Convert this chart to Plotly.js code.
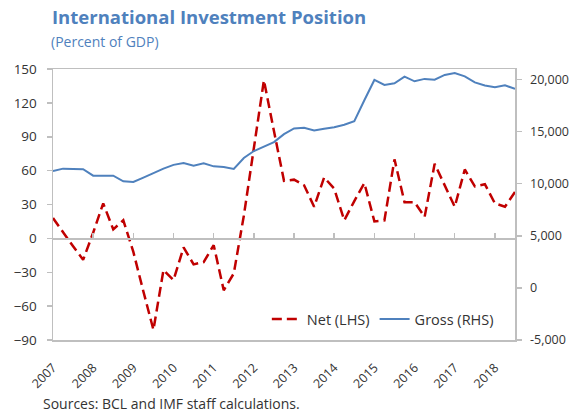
<!DOCTYPE html>
<html>
<head>
<meta charset="utf-8">
<script src="https://cdn.plot.ly/plotly-3.0.1.min.js"></script>
<style>html,body{margin:0;padding:0;background:#fff;}#chart{width:573px;height:414px;}</style>
</head>
<body>
<div id="chart"></div>
<script>
// Quarterly periods, 2007Q1 .. 2018Q3
var quarters = ["2007Q1","2007Q2","2007Q3","2007Q4","2008Q1","2008Q2","2008Q3","2008Q4",
  "2009Q1","2009Q2","2009Q3","2009Q4","2010Q1","2010Q2","2010Q3","2010Q4",
  "2011Q1","2011Q2","2011Q3","2011Q4","2012Q1","2012Q2","2012Q3","2012Q4",
  "2013Q1","2013Q2","2013Q3","2013Q4","2014Q1","2014Q2","2014Q3","2014Q4",
  "2015Q1","2015Q2","2015Q3","2015Q4","2016Q1","2016Q2","2016Q3","2016Q4",
  "2017Q1","2017Q2","2017Q3","2017Q4","2018Q1","2018Q2","2018Q3"];
var yearTickVals = ["2007Q1","2008Q1","2009Q1","2010Q1","2011Q1","2012Q1","2013Q1","2014Q1","2015Q1","2016Q1","2017Q1","2018Q1"];
var yearTickText = ["2007","2008","2009","2010","2011","2012","2013","2014","2015","2016","2017","2018"];

// Net IIP (percent of GDP, LHS)
var netLHS = [18, 5, -7, -19, 5, 31, 8, 16, -12, -47, -81, -28,
  -37, -8, -23, -21, -6, -46, -31, 20, 80, 140, 95, 51,
  52, 47, 28, 54, 44, 16, 33, 49, 15, 16, 70, 32,
  32, 19, 66, 47, 28, 61, 46, 48, 31, 28, 41];
// Gross IIP (percent of GDP, RHS)
var grossRHS = [11200, 11440, 11400, 11380, 10770, 10770, 10770, 10230, 10160, 10580, 11020, 11440,
  11800, 11980, 11730, 11950, 11660, 11600, 11410, 12460, 13130, 13580, 13990, 14750,
  15300, 15360, 15100, 15270, 15420, 15650, 16000, 18000, 19950, 19470, 19630, 20270,
  19820, 20050, 19980, 20430, 20620, 20300, 19720, 19410, 19250, 19440, 19090];

var FONT = "Open Sans, Noto Sans, sans-serif";
var BLUE = "#4F81BD";
var RED = "#C00000";
var GRAY = "#BFBFBF";
var TXT = "#333333";

var traces = [
  {x: quarters, y: netLHS, name: "Net (LHS)", type: "scatter", mode: "lines",
   xaxis: "x", yaxis: "y",
   line: {color: RED, width: 2.5, dash: "10px,5px"}},
  {x: quarters, y: grossRHS, name: "Gross (RHS)", type: "scatter", mode: "lines",
   xaxis: "x", yaxis: "y2",
   line: {color: BLUE, width: 2}},
  // empty helper trace so the zero-crossing category axis (ticks at year starts) is drawn
  {x: [], y: [], xaxis: "x2", yaxis: "y", type: "scatter", mode: "lines",
   showlegend: false, hoverinfo: "skip"}
];

var layout = {
  width: 573, height: 414,
  margin: {l: 53, r: 58, t: 68.5, b: 74, pad: 0},
  paper_bgcolor: "#fff", plot_bgcolor: "#fff",
  font: {family: FONT, size: 13, color: TXT},
  showlegend: true,
  title: {text: "<b>International Investment Position</b>",
    font: {family: FONT, size: 18.5, color: BLUE},
    xref: "container", yref: "container", x: 52/573, xanchor: "left", y: 1 - 18/414, yanchor: "middle"},
  xaxis: {type: "category", categoryorder: "array", categoryarray: quarters,
    range: [0, 46], tickmode: "array", tickvals: yearTickVals, ticktext: yearTickText,
    tickangle: -45, ticks: "", ticklabelstandoff: 14, showline: true, linecolor: GRAY, linewidth: 1.5, mirror: true,
    showgrid: false, zeroline: false, tickfont: {family: FONT, size: 12.5, color: TXT}},
  xaxis2: {type: "category", categoryorder: "array", categoryarray: quarters,
    range: [0, 46], overlaying: "x", anchor: "free", position: 0.375,
    tickmode: "array", tickvals: yearTickVals, showticklabels: false,
    ticks: "inside", ticklen: 5, tickcolor: GRAY, tickwidth: 1.5,
    showline: true, linecolor: GRAY, linewidth: 1.5, showgrid: false, zeroline: false},
  yaxis: {range: [-90, 150], tickmode: "linear", tick0: -90, dtick: 30,
    ticks: "outside", ticklen: 5, tickcolor: GRAY, tickwidth: 1.5, ticklabelstandoff: 7,
    showline: true, linecolor: GRAY, linewidth: 1.5, showgrid: false, zeroline: false,
    tickfont: {family: FONT, size: 13.5, color: TXT}},
  yaxis2: {range: [-5000, 21000], overlaying: "y", side: "right", anchor: "x",
    tickmode: "array", tickvals: [-5000, 0, 5000, 10000, 15000, 20000],
    ticktext: ["-5,000", "0", "5,000", "10,000", "15,000", "20,000"],
    ticks: "outside", ticklen: 5, tickcolor: GRAY, tickwidth: 1.5, ticklabelstandoff: 6,
    showline: true, linecolor: GRAY, linewidth: 1.5, showgrid: false, zeroline: false,
    tickfont: {family: FONT, size: 12.5, color: TXT}},
  legend: {orientation: "h", x: 0.965, xanchor: "right", y: 0.077, yanchor: "middle",
    bgcolor: "rgba(0,0,0,0)", font: {family: FONT, size: 14.5, color: TXT}, itemwidth: 30},
  annotations: [
    {text: "(Percent of GDP)", xref: "paper", yref: "paper", x: -0.0086, y: 1.101,
     xanchor: "left", yanchor: "middle", showarrow: false,
     font: {family: FONT, size: 14, color: BLUE}},
    {text: "Sources: BCL and IMF staff calculations.", xref: "paper", yref: "paper",
     x: -0.025, y: -0.2357, xanchor: "left", yanchor: "middle", showarrow: false,
     font: {family: FONT, size: 14, color: TXT}}
  ]
};

Plotly.newPlot("chart", traces, layout, {displayModeBar: false, staticPlot: true});
</script>
</body>
</html>
